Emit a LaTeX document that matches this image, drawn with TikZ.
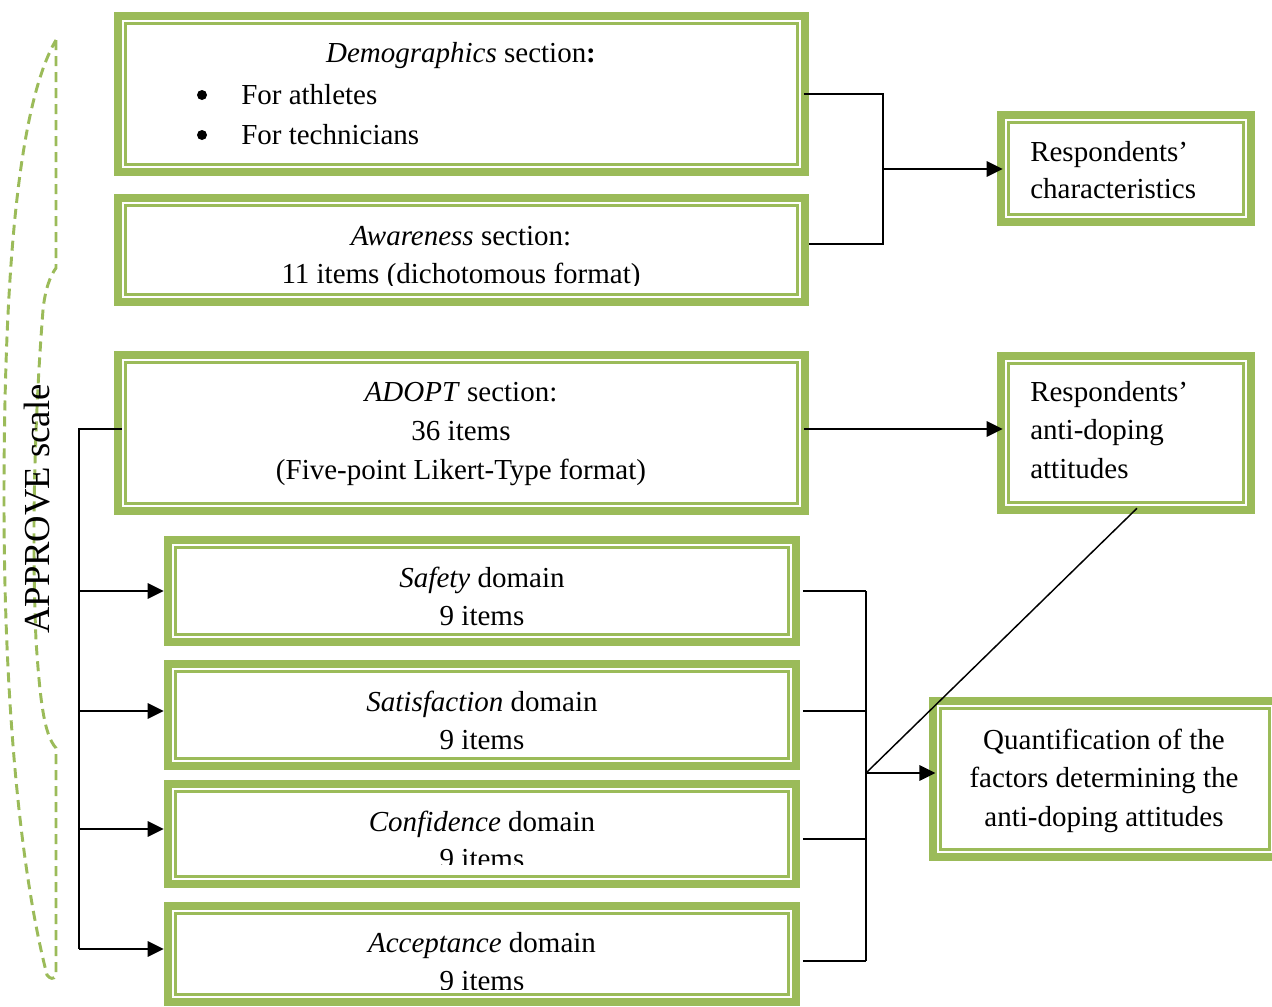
\documentclass[tikz,border=0pt]{standalone}
\usepackage{fontspec}
\setmainfont{Liberation Serif}
\usetikzlibrary{arrows.meta,fit}
\definecolor{agreen}{RGB}{155,187,89}
\newcommand\gbox[5]{%
  \draw[band] (#2+4,#3+4) rectangle (#4-4,#5-4);
  \draw[thinb] (#2+11.75,#3+11.75) rectangle (#4-11.75,#5-11.75);
  \node[inner sep=0pt, fit={(#2,#3)(#4,#5)}] (#1) {};
}
\begin{document}
\begin{tikzpicture}[x=0.75pt,y=-0.75pt,
  band/.style={draw=agreen, line width=6pt},
  thinb/.style={draw=agreen, line width=1.9pt},
  conn/.style={line width=1.4pt},
  arr/.style={line width=1.5pt, -{Triangle[length=12pt,width=11.5pt]}},
  diag/.style={line width=1.1pt},
  bracestyle/.style={draw=agreen, line width=2.2pt, dash pattern=on 7.5pt off 4.5pt, line cap=butt},
  txt/.style={inner sep=0pt, font=\fontsize{21.75}{29}\selectfont},
  rottxt/.style={inner sep=0pt, font=\fontsize{27.5}{33}\selectfont, rotate=90}]
\useasboundingbox (0,0) rectangle (1272,1007);
\clip (0,0) rectangle (1272,1007);

% dashed brace
\draw[bracestyle] (56,40) -- (56,268)
  .. controls (50,276) and (45,290) .. (43,310)
  .. controls (36,400) and (31,520) .. (36,640)
  .. controls (40,700) and (44,735) .. (56,748)
  -- (56,975)
  .. controls (54,980) and (50,979) .. (47,975)
  .. controls (20,870) and (4,700) .. (4,500)
  .. controls (4,300) and (15,110) .. (56,40);
\node[rottxt, anchor=base] (scale) at (50,509) {APPROVE scale};

% boxes
\gbox{demo}{114}{12}{809}{176}
\gbox{aware}{114}{194}{809}{306}
\gbox{adopt}{114}{351}{809}{515}
\gbox{safety}{164}{536}{800}{646}
\gbox{satis}{164}{660}{800}{770}
\gbox{conf}{164}{780}{800}{888}
\gbox{accept}{164}{902}{800}{1006}
\gbox{charac}{997}{111}{1255}{226}
\gbox{attit}{997}{352}{1255}{514}
\gbox{quant}{929}{697}{1281}{861}

% texts
\node[txt, anchor=base] (t1a) at (461,62) {\textit{Demographics} section\textbf{:}};
\fill (202,95) circle (5);
\fill (202,135) circle (5);
\node[txt, anchor=base west] (t1b) at (241,104) {For athletes};
\node[txt, anchor=base west] (t1c) at (241,144) {For technicians};

\node[txt, anchor=base] (t2a) at (461,245) {\textit{Awareness} section:};
\begin{scope}
\clip (130,200) rectangle (790,285);
\node[txt, anchor=base] (t2b) at (461,283) {11 items (dichotomous format)};
\end{scope}

\node[txt, anchor=base] (t3a) at (461,401) {\textit{ADOPT} section:};
\node[txt, anchor=base] (t3b) at (461,440) {36 items};
\node[txt, anchor=base] (t3c) at (461,479) {(Five-point Likert-Type format)};

\node[txt, anchor=base] (t4a) at (482,587) {\textit{Safety} domain};
\begin{scope}
\clip (180,540) rectangle (780,625);
\node[txt, anchor=base] (t4b) at (482,625) {9 items};
\end{scope}
\node[txt, anchor=base] (t5a) at (482,711) {\textit{Satisfaction} domain};
\begin{scope}
\clip (180,665) rectangle (780,749);
\node[txt, anchor=base] (t5b) at (482,749) {9 items};
\end{scope}
\node[txt, anchor=base] (t6a) at (482,831) {\textit{Confidence} domain};
\begin{scope}
\clip (180,785) rectangle (780,864);
\node[txt, anchor=base] (t6b) at (482,868) {9 items};
\end{scope}
\node[txt, anchor=base] (t7a) at (482,952) {\textit{Acceptance} domain};
\begin{scope}
\clip (180,905) rectangle (780,989);
\node[txt, anchor=base] (t7b) at (482,990) {9 items};
\end{scope}

\node[txt, anchor=base west] (t8a) at (1030,161) {Respondents’};
\node[txt, anchor=base west] (t8b) at (1030,198) {characteristics};

\node[txt, anchor=base west] (t9a) at (1030,401) {Respondents’};
\node[txt, anchor=base west] (t9b) at (1030,439) {anti-doping};
\node[txt, anchor=base west] (t9c) at (1030,478) {attitudes};

\node[txt, anchor=base] (t10a) at (1104,749) {Quantification of the};
\node[txt, anchor=base] (t10b) at (1104,787) {factors determining the};
\node[txt, anchor=base] (t10c) at (1104,826) {anti-doping attitudes};

% connectors top
\coordinate (j1) at (883,169);
\draw[conn] ([xshift=-4pt]demo.east) -| (j1) |- ([yshift=4.5pt]aware.east);
\draw[arr] (j1) -- ([xshift=4.5pt]j1 -| charac.west);

% ADOPT -> attitudes
\draw[arr] ([xshift=-4pt,yshift=3pt]adopt.east) -- ([xshift=4.5pt,yshift=3pt]attit.west);

% left bus
\coordinate (lb) at (79,429);
\coordinate (l1) at (79,591);
\coordinate (l2) at (79,711);
\coordinate (l3) at (79,829);
\coordinate (l4) at (79,949);
\draw[conn] ([xshift=6pt,yshift=3pt]adopt.west) -- (lb) -- (l4);
\draw[arr] (l1) -- (l1 -| safety.west);
\draw[arr] (l2) -- (l2 -| satis.west);
\draw[arr] (l3) -- (l3 -| conf.west);
\draw[arr] (l4) -- (l4 -| accept.west);

% right bus
\coordinate (r1) at (866,591);
\coordinate (r2) at (866,711);
\coordinate (r3) at (866,839);
\coordinate (r4) at (866,961);
\coordinate (rj) at (866,773);
\draw[conn] ([xshift=2pt]r1 -| safety.east) -- (r1);
\draw[conn] ([xshift=2pt]r2 -| satis.east) -- (r2);
\draw[conn] ([xshift=2pt]r3 -| conf.east) -- (r3);
\draw[conn] ([xshift=2pt]r4 -| accept.east) -- (r4);
\draw[conn] (r1) -- (r4);
\draw[arr] (rj) -- ([xshift=5pt]rj -| quant.west);
\draw[diag] (rj) -- ([xshift=8.25pt,yshift=4.5pt]attit.south);
\end{tikzpicture}
\end{document}
